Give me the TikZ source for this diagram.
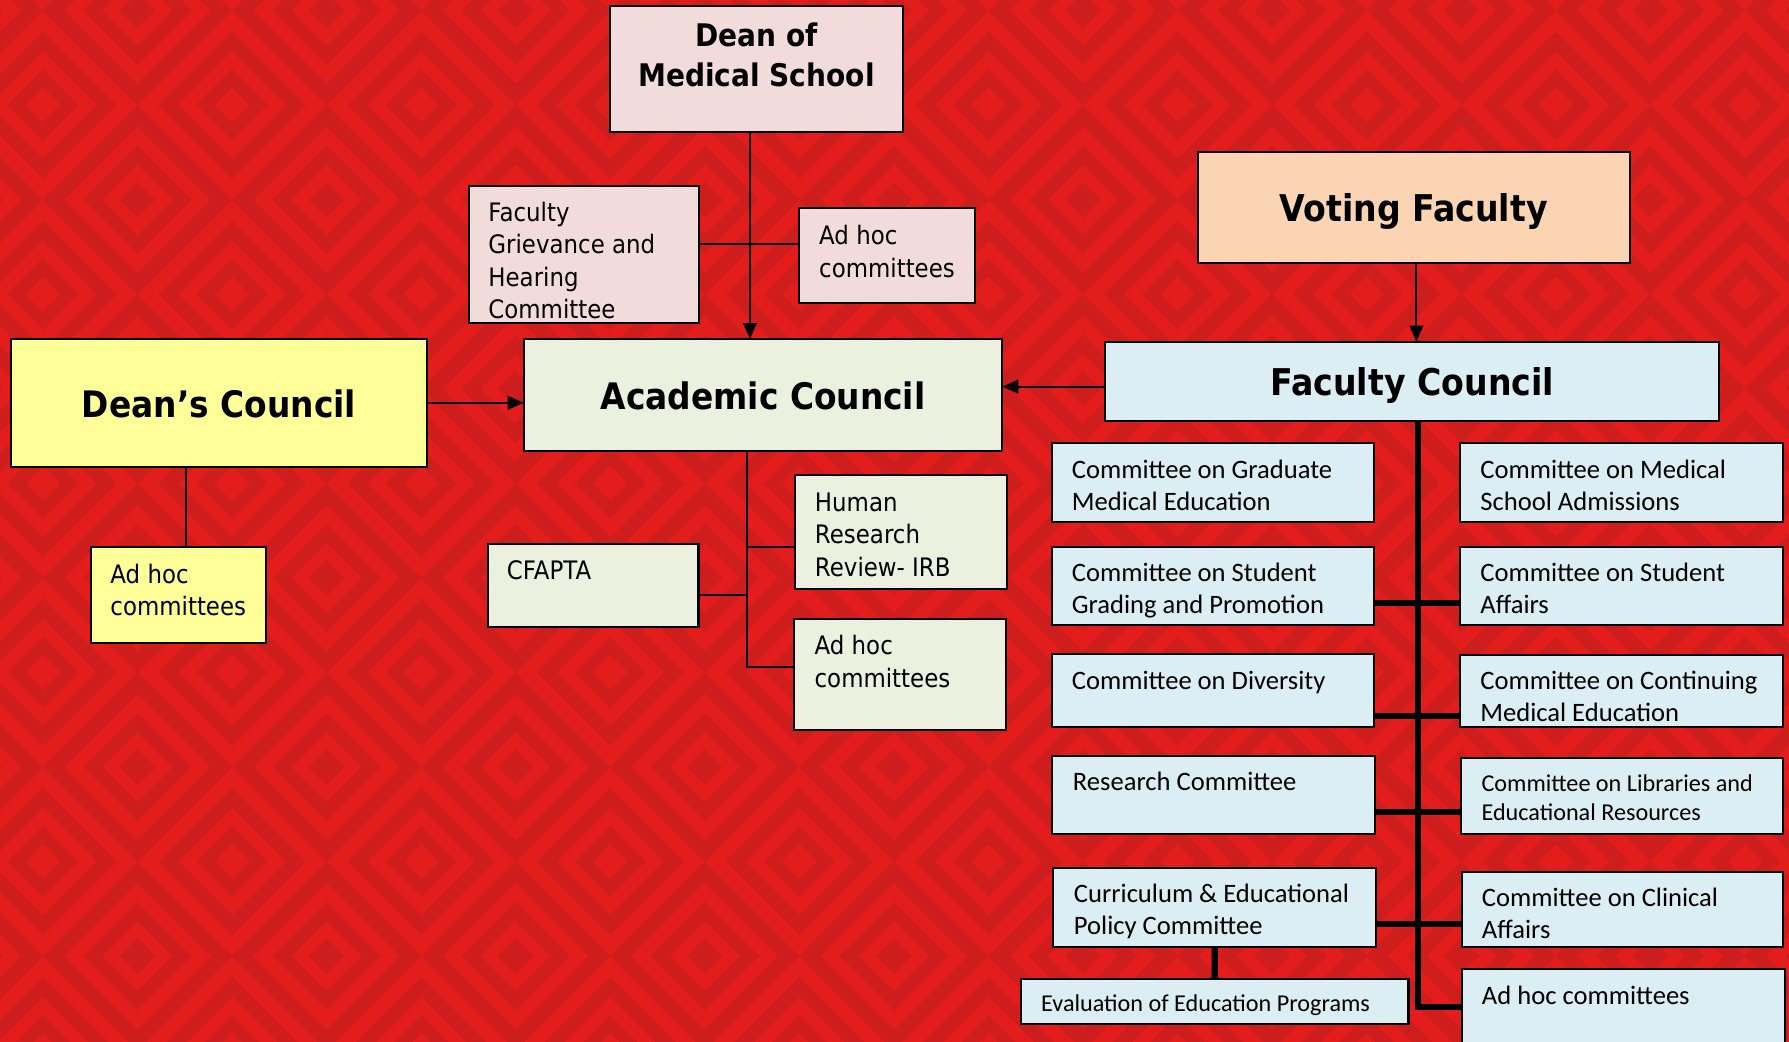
\documentclass[tikz,border=0pt]{standalone}
\usepackage{fontspec}
\usetikzlibrary{arrows.meta}
\newfontfamily\tahfont[FakeStretch=0.9]{DejaVu Sans}
\newfontfamily\calfont{Carlito}
\definecolor{bgl}{RGB}{227,28,28}
\definecolor{bgd}{RGB}{205,29,29}
\definecolor{pinkf}{HTML}{F2DCDB}
\definecolor{peachf}{HTML}{FBD4B4}
\definecolor{bluef}{HTML}{DBEEF3}
\definecolor{greenf}{HTML}{EBF1DE}
\definecolor{yellowf}{HTML}{FFFF99}
% box content: width, height, first baseline, left skip, text
\newcommand\bxt[5]{\vbox to #2{\hsize=#1\relax\parskip=0pt\parindent=0pt\kern\dimexpr#3-\baselineskip\relax\hbox{}\leftskip=#4\relax\rightskip=0pt plus 1fil\relax\parfillskip=0pt\relax #5\par\vss}}
\newcommand\mkbox[9]{\node[#1,anchor=north west] (#2) at (#3,#4) {\bxt{\dimexpr#5pt-#3pt\relax}{\dimexpr#6pt-#4pt\relax}{#7pt}{#8}{#9}};}
\newcommand\dmd[3]{(#1-#3,#2) -- (#1,#2-#3) -- (#1+#3,#2) -- (#1,#2+#3) -- cycle}
\tikzset{
  box/.style={draw=black, line width=1.8pt, inner sep=0pt, outer sep=0pt, text=black},
  tr/.style={box, font=\tahfont\fontsize{22.3}{28.3}\selectfont},
  cr/.style={box, font=\calfont\fontsize{23.3}{28}\selectfont},
  crs/.style={box, font=\calfont\fontsize{21.2}{25.5}\selectfont},
  tb/.style={box, font=\tahfont\bfseries\fontsize{32}{38}\selectfont},
  tbl/.style={box, font=\tahfont\bfseries\fontsize{32.3}{38}\selectfont},
  tbd/.style={box, font=\tahfont\bfseries\fontsize{27.3}{34.5}\selectfont},
  conn/.style={line width=1.8pt, draw=black},
  arr/.style={conn, -{Triangle[length=14pt,width=12pt]}},
  thk/.style={line width=5.5pt, draw=black},
}
\begin{document}
\begin{tikzpicture}[x=1pt,y=-1pt]
\useasboundingbox (0,0) rectangle (1568,913);
\begin{scope}
\clip (0,0) rectangle (1568,913);
\fill[bgl] (0,0) rectangle (1568,913);
\foreach \i in {-1,...,10}{\foreach \j in {-1,...,6}{
  \pgfmathsetmacro\pxa{37.7+165.75*\i}\pgfmathsetmacro\pya{92.0+165.75*\j}
  \pgfmathsetmacro\pxb{120.5+165.75*\i}\pgfmathsetmacro\pyb{175.0+165.75*\j}
  \fill[bgd,even odd rule] \dmd{\pxa}{\pya}{64.4} \dmd{\pxa}{\pya}{47.3} \dmd{\pxa}{\pya}{31.0} \dmd{\pxa}{\pya}{15.5};
  \fill[bgd,even odd rule] \dmd{\pxb}{\pyb}{82.9} \dmd{\pxb}{\pyb}{64.4} \dmd{\pxb}{\pyb}{47.3} \dmd{\pxb}{\pyb}{31.0} \dmd{\pxb}{\pyb}{15.5};
}}

% left / centre part
\mkbox{tbd,fill=pinkf}{dean}{534.6}{5.3}{791.4}{115.7}{35.7}{0pt plus 1fil}{Dean of\par Medical School}
\mkbox{tr,fill=pinkf}{fg}{411.1}{162.7}{612.7}{283.4}{31.6}{17pt}{Faculty\par Grievance and\par Hearing\par Committee}
\mkbox{tr,fill=pinkf}{ah1}{700.6}{182}{854.9}{265.8}{32.7}{17.4pt}{Ad hoc\par committees}
\mkbox{tb,fill=yellowf}{dc}{10}{297.1}{373.9}{409}{68.7}{0pt plus 1fil}{Dean’s Council}
\mkbox{tb,fill=greenf}{acad}{459}{297.1}{878.6}{395}{61.7}{0pt plus 1fil}{Academic Council}
\mkbox{tr,fill=yellowf}{ahy}{79.8}{479.7}{233}{563.3}{31.6}{17pt}{Ad hoc\par committees}
\mkbox{tr,fill=greenf}{hr}{696.8}{416.3}{882.3}{516.5}{32}{17.5pt}{Human\par Research\par Review- IRB}
\mkbox{tr,fill=greenf}{cf}{427.3}{477}{612.2}{549.2}{31.3}{17pt}{CFAPTA}
\mkbox{tr,fill=greenf}{ah2}{696}{542.5}{881.6}{639.8}{31.5}{18pt}{Ad hoc\par committees}

% right part
\mkbox{tbl,fill=peachf}{vote}{1049.6}{133}{1428.6}{230.8}{61}{0pt plus 1fil}{Voting Faculty}
\mkbox{tbl,fill=bluef}{fc}{968.8}{299.5}{1506.8}{368.7}{47.3}{0pt plus 1fil}{Faculty Council}
\mkbox{cr,fill=bluef}{grad}{922}{388.5}{1204.6}{457.2}{30.7}{17.5pt}{Committee on Graduate\par Medical Education}
\mkbox{cr,fill=bluef}{adm}{1279.9}{388.5}{1562.5}{457.2}{30.7}{17.6pt}{Committee on Medical\par School Admissions}
\mkbox{cr,fill=bluef}{sg}{922}{479.1}{1204.6}{547.8}{30.7}{17.5pt}{Committee on Student\par Grading and Promotion}
\mkbox{cr,fill=bluef}{sa}{1279.9}{479.7}{1562.5}{547.8}{30.1}{17.6pt}{Committee on Student\par Affairs}
\mkbox{cr,fill=bluef}{div}{922}{573.5}{1204.6}{637}{30.6}{17.5pt}{Committee on Diversity}
\mkbox{cr,fill=bluef}{cme}{1279.9}{573.9}{1562.5}{637}{30.6}{17.6pt}{Committee on Continuing\par Medical Education}
\mkbox{cr,fill=bluef}{res}{921.8}{662.6}{1205}{731.2}{30.4}{18.6pt}{Research Committee}
\mkbox{crs,fill=bluef}{lib}{1280.4}{664.6}{1563}{731.2}{28.7}{18.1pt}{Committee on Libraries and\par Educational Resources}
\mkbox{cr,fill=bluef}{cur}{923.1}{761}{1206.3}{829.7}{30.1}{18.2pt}{Curriculum \& Educational\par Policy Committee}
\mkbox{cr,fill=bluef}{cli}{1281.7}{764}{1563}{829.7}{30.6}{17.2pt}{Committee on Clinical\par Affairs}
\mkbox{crs,fill=bluef}{eva}{895}{858.3}{1234.5}{897.5}{28.4}{17.6pt}{Evaluation of Education Programs}
\mkbox{cr,fill=bluef}{ahr}{1281.2}{849.5}{1564.4}{950}{31.3}{17.7pt}{Ad hoc committees}

% connectors, left / centre
\draw[arr] ([xshift=-5.7pt]dean.south) -- ([xshift=-5.7pt]dean.south |- acad.north);
\coordinate (fgl) at (657.3,214.1);
\draw[conn] (fg.east |- fgl) -- (ah1.west |- fgl);
\draw[arr] (dc.east) -- (dc.east -| acad.west);
\draw[arr] ([yshift=-4.8pt]fc.west) -- ([yshift=-4.8pt]fc.west -| acad.east);
\draw[conn] ([xshift=-28.75pt]dc.south) -- ([xshift=-28.75pt]dc.south |- ahy.north);
\coordinate (ab1) at (654.4,479.1);
\coordinate (ab2) at (654.4,521.2);
\coordinate (ab3) at (654.4,584.3);
\draw[conn] (acad.south -| ab3) -- (ab3) -- (ah2.west |- ab3);
\draw[conn] (ab1) -- (hr.west |- ab1);
\draw[conn] (ab2) -- (cf.east |- ab2);

% connectors, right
\draw[arr] ([xshift=2.3pt]vote.south) -- ([xshift=2.3pt]vote.south |- fc.north);
\coordinate (fb) at (1243,882.5);
\draw[thk] (fc.south -| fb) -- (fb) -- (ahr.west |- fb);
\coordinate (h1) at (1243,528.2);
\coordinate (h2) at (1243,627.5);
\coordinate (h3) at (1243,711.4);
\coordinate (h4) at (1243,810.1);
\draw[thk] (sg.east |- h1) -- (sa.west |- h1);
\draw[thk] (div.east |- h2) -- (cme.west |- h2);
\draw[thk] (res.east |- h3) -- (lib.west |- h3);
\draw[thk] (cur.east |- h4) -- (cli.west |- h4);
\draw[thk] (cur.south) -- (eva.north);
\end{scope}
\end{tikzpicture}
\end{document}
